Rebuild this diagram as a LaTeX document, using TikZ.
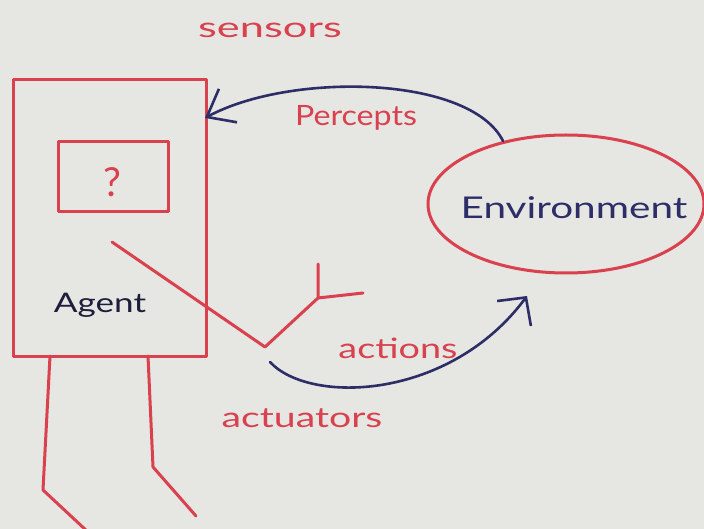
\documentclass[tikz,border=0pt]{standalone}
\usepackage{fontspec}
\setmainfont{Lato}
\usetikzlibrary{arrows.meta,shapes.geometric}
\definecolor{paper}{HTML}{E6E6E3}
\definecolor{pen}{HTML}{D9414F}
\definecolor{ink}{HTML}{2D2D68}
\definecolor{dark}{HTML}{1E1E3C}
\newcommand{\wide}[2]{\scalebox{#1}[1]{#2}}
\tikzset{
  redline/.style={draw=pen, line width=3pt, line join=round, line cap=round},
  blueline/.style={draw=ink, line width=2.6pt, line cap=round, line join=round},
  lbl/.style={text=pen, inner sep=0pt, font=\fontsize{28}{32}\selectfont},
  frame/.style={redline, inner sep=0pt},
}
\begin{document}
\begin{tikzpicture}[x=1pt,y=-1pt]
\fill[paper] (0,0) rectangle (704,529);
\useasboundingbox (0,0) rectangle (704,529);

% agent body and its inner decision box
\node[frame, anchor=north west, minimum width=193pt, minimum height=277pt] (agent) at (12,78) {};
\node[frame, minimum width=110pt, minimum height=70pt] (brain) at (113,177) {};
\node[lbl, font=\fontsize{40}{44}\selectfont] (qmark) at (112,182) {?};
\node[lbl, text=dark, font=\fontsize{27}{32}\selectfont] (agentlbl) at (100,305) {\wide{1.3}{Agent}};

% legs
\coordinate (lhip) at (50,356);
\coordinate (lknee) at (43,490);
\coordinate (lfoot) at (88,532);
\coordinate (rhip) at (148,356);
\coordinate (rknee) at (153,467);
\coordinate (rfoot) at (196,516);
\draw[redline] (lhip) -- (lknee) -- (lfoot);
\draw[redline] (rhip) -- (rknee) -- (rfoot);

% actuator arm with its gripper
\coordinate (shoulder) at (112,242);
\coordinate (elbow) at (265,347);
\coordinate (wrist) at (318,298);
\coordinate (fingerA) at (318,264);
\coordinate (fingerB) at (363,293);
\draw[redline] (shoulder) -- (elbow) -- (wrist) -- (fingerA);
\draw[redline] (wrist) -- (fingerB);

% environment
\node[ellipse, redline, minimum width=276pt, minimum height=138pt, inner sep=0pt] (env) at (566,204) {};
\node[text=ink, inner sep=0pt, font=\fontsize{30}{34}\selectfont] (envlbl) at (574,208) {\wide{1.35}{Environment}};

% percepts: environment -> agent
\coordinate (sense) at (205,118);
\draw[blueline, -{Straight Barb[length=24pt,width=38pt]}] (env.135) .. controls (470,75) and (290,72) .. (sense);

% actions: actuator -> environment
\coordinate (act) at (270,362);
\coordinate (hit) at (527,296);
\draw[blueline, -{Straight Barb[length=20pt,width=42pt]}] (act) .. controls (310,405) and (450,400) .. (hit);

% labels
\node[lbl] (sensors) at (270,30) {\wide{1.55}{sensors}};
\node[lbl] (percepts) at (356,118) {\wide{1.15}{Percepts}};
\node[lbl] (actions) at (398,348) {\wide{1.35}{actions}};
\node[lbl] (actuators) at (302,418) {\wide{1.4}{actuators}};
\end{tikzpicture}
\end{document}
